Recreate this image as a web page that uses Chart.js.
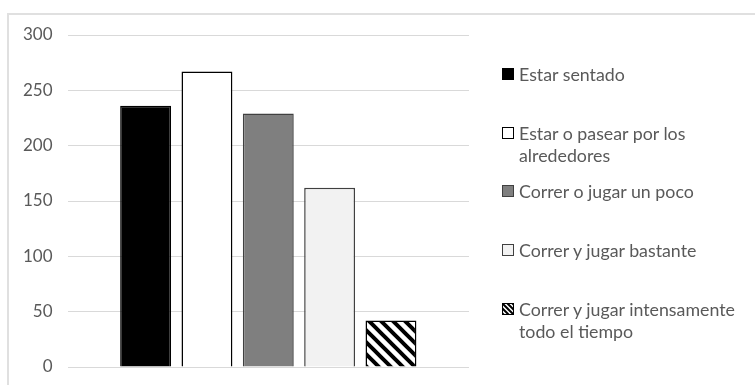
<!DOCTYPE html>
<html>
<head>
<meta charset="utf-8">
<script src="https://cdn.jsdelivr.net/npm/chart.js@4.4.1/dist/chart.umd.min.js"></script>
<style>
    html, body { margin: 0; padding: 0; background: #fff; }
    #wrap { position: relative; width: 755px; height: 385px; overflow: hidden; }
    #frame { position: absolute; left: 7px; top: 13px; right: -4px; bottom: -4px;
             border-left: 2px solid #e0e0e0; border-top: 2px solid #e0e0e0; }
    #chart { position: absolute; left: 0; top: 0; }
    #legend { position: absolute; left: 502px; top: 63px; width: 245px;
              font-family: Lato, sans-serif; font-size: 17.8px; color: #595959; }
    .item { height: 58.7px; display: flex; align-items: flex-start; line-height: 22px; }
    .box { flex: none; width: 10px; height: 10px; border: 1px solid #000; margin: 5px 5px 0 0; }
</style>
</head>
<body>
<div id="wrap">
    <div id="frame"></div>
    <canvas id="chart" width="755" height="385"></canvas>
    <div id="legend"></div>
</div>
<script>
(function () {
    'use strict';

    var categories = [''];
    var seriesNames = [
        'Estar sentado',
        'Estar o pasear por los alrededores',
        'Correr o jugar un poco',
        'Correr y jugar bastante',
        'Correr y jugar intensamente todo el tiempo'
    ];
    var seriesValues = [236, 267, 229, 162, 42];
    var yTicks = [0, 50, 100, 150, 200, 250, 300];

    var FONT = 'Lato, sans-serif';
    var TEXT = '#595959';

    function hatch(size, line) {
        var c = document.createElement('canvas');
        c.width = size;
        c.height = size;
        var g = c.getContext('2d');
        g.fillStyle = '#fff';
        g.fillRect(0, 0, size, size);
        g.strokeStyle = '#000';
        g.lineWidth = line;
        g.beginPath();
        g.moveTo(-size, -size); g.lineTo(size * 2, size * 2);
        g.moveTo(-size, 0); g.lineTo(size, size * 2);
        g.moveTo(0, -size); g.lineTo(size * 2, size);
        g.stroke();
        return c;
    }

    var tile = hatch(12, 4);
    var ctx = document.getElementById('chart').getContext('2d');
    var stripes = ctx.createPattern(tile, 'repeat');

    var fills = ['#000000', '#ffffff', '#7f7f7f', '#f2f2f2', stripes];
    var borders = ['#000000', '#000000', '#404040', '#404040', '#000000'];

    var datasets = seriesNames.map(function (name, i) {
        return {
            label: name,
            data: [seriesValues[i]],
            backgroundColor: fills[i],
            borderColor: borders[i],
            borderWidth: 1.5,
            categoryPercentage: 0.764,
            barPercentage: 0.83
        };
    });

    var htmlLegend = {
        id: 'htmlLegend',
        afterUpdate: function (chart) {
            var el = document.getElementById('legend');
            el.innerHTML = '';
            chart.data.datasets.forEach(function (ds, i) {
                var item = document.createElement('div');
                item.className = 'item';
                var box = document.createElement('span');
                box.className = 'box';
                box.style.borderColor = ds.borderColor;
                if (typeof ds.backgroundColor === 'string') {
                    box.style.background = ds.backgroundColor;
                } else {
                    var sw = hatch(5, 2);
                    box.style.background = '#000 url(' + sw.toDataURL() + ')';
                }
                var txt = document.createElement('span');
                txt.textContent = ds.label;
                item.appendChild(box);
                item.appendChild(txt);
                el.appendChild(item);
            });
        }
    };

    new Chart(ctx, {
        type: 'bar',
        data: { labels: categories, datasets: datasets },
        options: {
            responsive: false,
            animation: false,
            layout: { padding: { left: 20, right: 286, top: 35, bottom: 18 } },
            plugins: {
                legend: { display: false },
                tooltip: { enabled: false }
            },
            scales: {
                x: { display: false },
                y: {
                    min: 0,
                    max: 300,
                    afterBuildTicks: function (scale) {
                        scale.ticks = yTicks.map(function (v) { return { value: v }; });
                    },
                    border: { display: false },
                    grid: { color: '#d9d9d9', lineWidth: 1, drawTicks: true,
                            tickLength: 12, tickColor: 'rgba(0,0,0,0)' },
                    ticks: { color: TEXT, padding: 3, font: { family: FONT, size: 17 } }
                }
            }
        },
        plugins: [htmlLegend]
    });
})();
</script>
</body>
</html>
